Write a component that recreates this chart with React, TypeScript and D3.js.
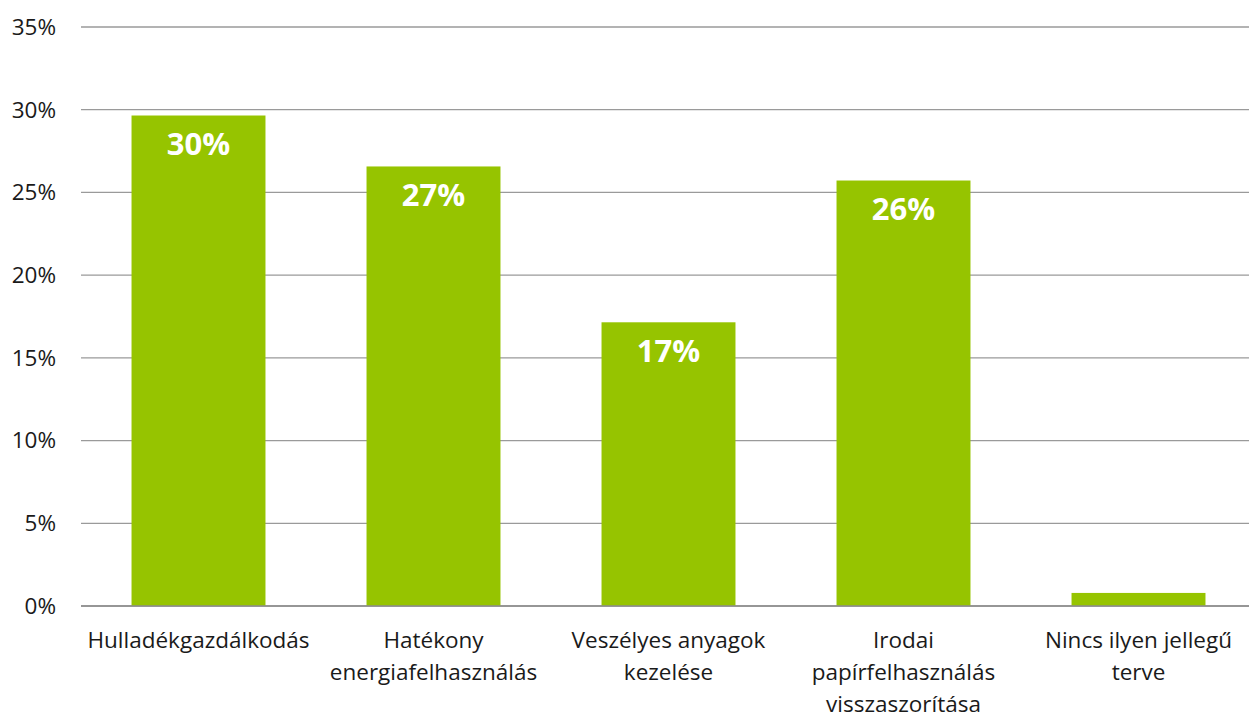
import React from "react";
import * as d3 from "d3";

const categories: string[][] = [
  ["Hulladékgazdálkodás"],
  ["Hatékony", "energiafelhasználás"],
  ["Veszélyes anyagok", "kezelése"],
  ["Irodai", "papírfelhasználás", "visszaszorítása"],
  ["Nincs ilyen jellegű", "terve"],
];
const values: number[] = [29.65, 26.57, 17.15, 25.72, 0.79];
const valueLabels: string[] = ["30%", "27%", "17%", "26%", ""];
const yTicks: number[] = [0, 5, 10, 15, 20, 25, 30, 35];

const W = 1249;
const H = 718;
const FONT = "'Open Sans', sans-serif";

export default function App() {
  const x = d3
    .scaleBand<number>()
    .domain(d3.range(categories.length))
    .range([81, 1256])
    .paddingInner(0.43)
    .paddingOuter(0.215);
  const y = d3.scaleLinear().domain([0, 35]).range([606, 27]);

  return (
    <div style={{ position: "fixed", left: 0, top: 0 }}>
      <svg width={W} height={H} style={{ display: "block", background: "#fff" }}>
        {yTicks.map((t) => (
          <g key={t}>
            <line x1={81} x2={W} y1={y(t)} y2={y(t)} stroke="#9a9a9a" strokeWidth={1.3} />
            <text
              x={56}
              y={y(t)}
              dy="0.35em"
              textAnchor="end"
              fontFamily={FONT}
              fontSize={22.5}
              fill="#1a1a1a"
            >
              {t}%
            </text>
          </g>
        ))}
        {values.map((v, i) => (
          <g key={i}>
            <rect
              x={x(i)}
              y={y(v)}
              width={x.bandwidth()}
              height={y(0) - y(v)}
              fill="#96c400"
            />
            {valueLabels[i] && (
              <text
                x={(x(i) as number) + x.bandwidth() / 2}
                y={y(v) + 29}
                dy="0.35em"
                textAnchor="middle"
                fontFamily={FONT}
                fontWeight={700}
                fontSize={31}
                fill="#ffffff"
              >
                {valueLabels[i]}
              </text>
            )}
          </g>
        ))}
        <line x1={81} x2={W} y1={y(0)} y2={y(0)} stroke="#8c8c8c" strokeWidth={1.5} />
        {categories.map((lines, i) => (
          <text
            key={i}
            textAnchor="middle"
            fontFamily={FONT}
            fontSize={22.5}
            fill="#1a1a1a"
          >
            {lines.map((l, j) => (
              <tspan key={j} x={(x(i) as number) + x.bandwidth() / 2} y={640 + j * 32} dy="0.35em">
                {l}
              </tspan>
            ))}
          </text>
        ))}
      </svg>
    </div>
  );
}
